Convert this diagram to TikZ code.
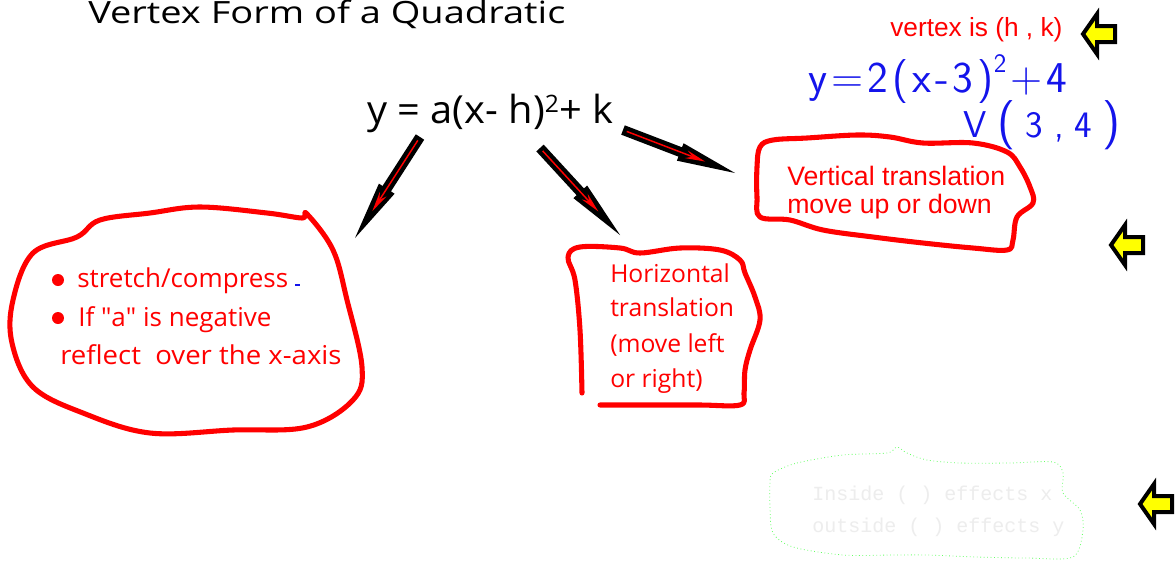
\documentclass[tikz,border=0pt]{standalone}
\usepackage{fontspec}
\setmainfont{Open Sans}
\newfontfamily\arialf{Liberation Sans}
\newfontfamily\monof{Liberation Mono}
\usetikzlibrary{calc,arrows.meta}
\definecolor{inkred}{RGB}{255,0,0}
\definecolor{inkblue}{RGB}{20,20,235}
\definecolor{yel}{RGB}{255,255,0}
\newcommand\fsz[1]{\fontsize{#1}{#1}\selectfont}
\newcommand\bkarrow[2]{%
  \coordinate (hb) at ($(#2)!44pt!(#1)$);
  \fill[black] ($(#1)!3.75pt!90:(#2)$) -- ($(hb)!3.75pt!90:(#2)$) -- ($(hb)!7pt!90:(#2)$) -- (#2)
     -- ($(hb)!7pt!-90:(#2)$) -- ($(hb)!3.75pt!-90:(#2)$) -- ($(#1)!3.75pt!-90:(#2)$) -- cycle;
  \draw[inkred, line width=1.1pt, -{Stealth[length=15pt,width=6pt]}] ($(#1)!3pt!(#2)$) -- ($(#2)!24pt!(#1)$);
}
\newcommand\yarrow[1]{%
  \draw[black, line width=3pt, fill=yel, miter limit=20]
    ($(#1)+(3,0)$) -- ++(14,-20) -- ++(0,12) -- ++(18,0) -- ++(0,16) -- ++(-18,0) -- ++(0,12) -- cycle;
}
\tikzset{
  blob/.style={draw=inkred, line width=3.8pt, line join=round, line cap=round},
  comic/.style={inner sep=0pt, anchor=base west, text=inkred},
  arialtxt/.style={inner sep=0pt, anchor=base west, text=inkred},
  hand/.style={inner sep=0pt, anchor=base west, text=inkblue},
}
\begin{document}
\begin{tikzpicture}[x=0.75pt,y=-0.75pt]
\useasboundingbox (0,0) rectangle (1175,565);
\fill[white] (0,0) rectangle (1175,565);

% title and formula
\node[inner sep=0pt, anchor=base west, font=\fsz{23}\addfontfeature{FakeStretch=1.24}] (title) at (88,23) {Vertex Form of a Quadratic};
\node[inner sep=0pt, anchor=base west, font=\fsz{29}\addfontfeature{FakeStretch=1.03}] (eq) at (367,123)
  {y = a(x- h)\raisebox{8pt}{\fsz{18}2}+ k};

% top right notes
\node[arialtxt, font=\arialf\fsz{19.7}] (vtx) at (890,36) {vertex is (h , k)};
\node[hand, font=\sffamily\fsz{33}] (ex) at (808,92)
  {y\kern3pt=\kern3pt2\kern3pt(\kern3pt x\kern3pt-\kern3pt3\kern3pt)\raisebox{15pt}{\fsz{20}2}\kern3pt+\kern3pt4};
\node[hand, font=\sffamily\fsz{28}] (vex) at (963,137)
  {V\kern8pt{\fsz{37}(}\kern8pt3\kern8pt,\kern8pt4\kern8pt{\fsz{37})}};

% yellow arrows
\coordinate (y1) at (1080,34);
\coordinate (y2) at (1108,245);
\coordinate (y3) at (1137,504);
\yarrow{y1}
\yarrow{y2}
\yarrow{y3}

% black/red arrows
\coordinate (t1) at (420,137); \coordinate (p1) at (355,238);
\coordinate (t2) at (540,148); \coordinate (p2) at (620,235);
\coordinate (t3) at (623,130); \coordinate (p3) at (735,173);
\bkarrow{t1}{p1}
\bkarrow{t2}{p2}
\bkarrow{t3}{p3}

% left blob
\draw[blob] plot[smooth cycle, tension=0.6] coordinates {
 (307,214) (333,250) (347,300) (362,367) (353,400) (307,427) (233,430) (150,433)
 (83,413) (33,387) (12,343) (13,300) (33,253) (77,237) (100,220) (150,213)
 (200,207) (267,213) (302,218)};
\fill[inkred] (58,280) circle (6);
\fill[inkred] (58,318) circle (6);
\node[comic, font=\fsz{19.5}] (s1) at (77,287) {stretch/compress};
\node[comic, font=\fsz{19.5}] (s2) at (78,326) {If \textquotedbl a\textquotedbl\ is negative};
\node[comic, font=\fsz{19.5}\addfontfeature{FakeStretch=1.06}] (s3) at (60,364) {reflect\ \ over the x-axis};
\draw[inkblue, line width=1pt] (295,285) -- (300,285);

% horizontal box
\draw[blob] plot[smooth, tension=0.6] coordinates {
 (582,393) (580,330) (575,280) (568,257) (580,247) (620,248) (640,253) (680,248)
 (720,250) (740,260) (745,273) (755,297) (760,320) (750,350) (745,370) (744,393)
 (740,405) (700,405) (650,405) (600,405)};
\node[comic, font=\fsz{18.5}] (h1) at (610,282) {Horizontal};
\node[comic, font=\fsz{18.5}] (h2) at (610,316) {translation};
\node[comic, font=\fsz{18.5}] (h3) at (610,352) {(move left};
\node[comic, font=\fsz{18.5}] (h4) at (610,387) {or right)};

% vertical box
\draw[blob] plot[smooth cycle, tension=0.6] coordinates {
 (760,147) (773,140) (807,138) (857,135) (890,137) (923,143) (973,143) (1007,152)
 (1020,167) (1030,187) (1033,203) (1017,217) (1013,240) (1007,250) (973,248)
 (923,243) (873,237) (823,230) (790,220) (760,217) (757,197) (757,167)};
\node[arialtxt, font=\arialf\fsz{20}] (v1) at (787,185) {Vertical translation};
\node[arialtxt, font=\arialf\fsz{20}] (v2) at (787,213) {move up or down};

% faint hidden cloud
\draw[green!60!white, dotted, line width=0.6pt] plot[smooth cycle, tension=0.5] coordinates {
 (773,473) (797,463) (843,455) (887,453) (897,447) (907,453) (927,460) (960,463)
 (1010,463) (1053,462) (1063,473) (1063,493) (1080,510) (1083,530) (1073,557)
 (1027,558) (977,557) (927,555) (893,555) (843,555) (793,547) (773,533) (770,507) (770,483)};
\node[inner sep=0pt, anchor=base west, text=black!7, font=\monof\fsz{15}] (g1) at (812,500) {Inside ( ) effects x};
\node[inner sep=0pt, anchor=base west, text=black!7, font=\monof\fsz{15}] (g2) at (812,532) {outside ( ) effects y};
\end{tikzpicture}
\end{document}
